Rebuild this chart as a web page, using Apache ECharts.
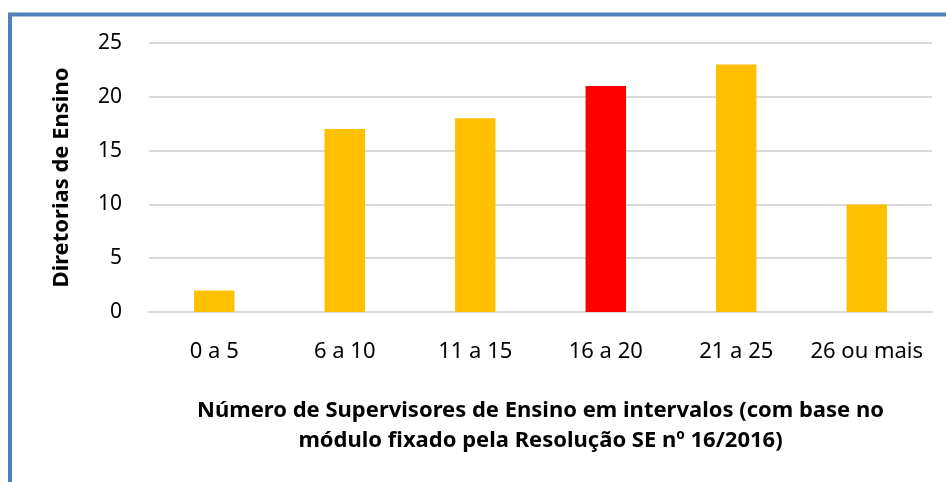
<!DOCTYPE html>
<html>
<head>
<meta charset="utf-8">
<script src="https://cdn.jsdelivr.net/npm/echarts@6/dist/echarts.min.js"></script>
<style>
  html, body { margin: 0; padding: 0; background: #fff; }
  #chart { width: 946px; height: 482px; }
</style>
</head>
<body>
<div id="chart"></div>
<script>
  const categories = ['0 a 5', '6 a 10', '11 a 15', '16 a 20', '21 a 25', '26 ou mais']
  const values = [2, 17, 18, 21, 23, 10]
  const highlightIndex = 3
  const yTicks = [0, 5, 10, 15, 20, 25]

  const chart = echarts.init(document.getElementById('chart'))
  const options = {
    animation: false,
    textStyle: { fontFamily: 'Noto Sans' },
    graphic: [
      {
        type: 'rect',
        shape: { x: 10, y: 14.5, width: 1200, height: 1000 },
        style: { fill: 'none', stroke: '#4F81BD', lineWidth: 4 },
      },
    ],
    grid: {
      left: 149,
      right: 14,
      top: 43,
      bottom: 170,
    },
    xAxis: {
      type: 'category',
      data: categories,
      axisLine: { lineStyle: { color: '#d9d9d9', width: 2 } },
      axisTick: { show: false },
      axisLabel: {
        color: '#000',
        fontSize: 22,
        margin: 29,
        interval: 0,
      },
      name: 'Número de Supervisores de Ensino em intervalos (com base no\nmódulo fixado pela Resolução SE nº 16/2016)',
      nameLocation: 'middle',
      nameGap: 84,
      nameTextStyle: {
        color: '#000',
        fontSize: 22,
        fontWeight: 'bold',
        lineHeight: 30,
      },
    },
    yAxis: {
      type: 'value',
      min: yTicks[0],
      max: yTicks[yTicks.length - 1],
      interval: 5,
      axisLine: { show: false },
      axisTick: { show: false },
      splitLine: { lineStyle: { color: '#d9d9d9', width: 2 } },
      axisLabel: {
        color: '#000',
        fontSize: 21,
        margin: 27,
      },
      name: 'Diretorias de Ensino',
      nameLocation: 'middle',
      nameGap: 76,
      nameTextStyle: {
        color: '#000',
        fontSize: 22,
        fontWeight: 'bold',
      },
    },
    series: [
      {
        type: 'bar',
        barWidth: '31%',
        data: values.map((v, i) => ({
          value: v,
          itemStyle: { color: i === highlightIndex ? '#FF0000' : '#FFC000' },
        })),
      },
    ],
  }
  chart.setOption(options)
  window.addEventListener('resize', function () {
    chart && chart.resize()
  })
</script>
</body>
</html>
